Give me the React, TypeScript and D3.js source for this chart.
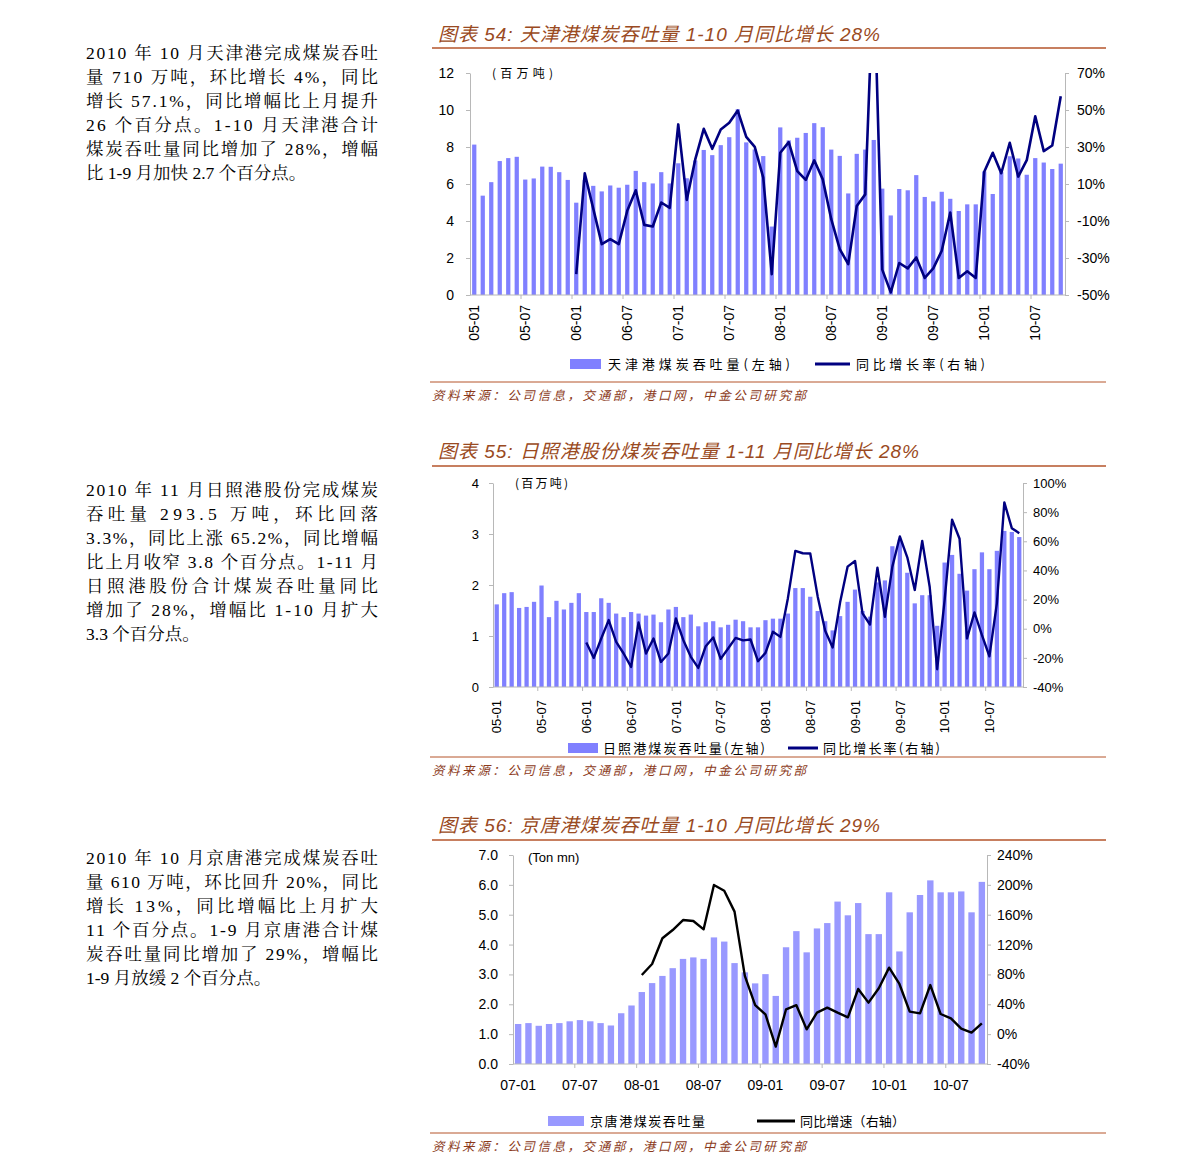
import { useEffect, useRef } from 'react';
import * as d3 from 'd3';

const AXIS_FONT = '"Liberation Sans", Arial, sans-serif';
const CJK_FONT = '"Noto Sans CJK SC", sans-serif';
const SERIF_FONT = '"Liberation Serif", "Noto Serif CJK SC", "Noto Sans CJK SC", serif';
const BROWN = '#9a4a22';

// month keys like '05-01'
function monthKeys(year: number, month: number, count: number) {
  const out: string[] = [];
  for (let k = 0; k < count; k++) {
    const m = (month - 1 + k) % 12;
    const y = year + Math.floor((month - 1 + k) / 12);
    out.push(`${String(y % 100).padStart(2, '0')}-${String(m + 1).padStart(2, '0')}`);
  }
  return out;
}

// ---- 图表 54 天津港 (2005-01 .. 2010-10)
const tjMonths = monthKeys(2005, 1, 70);
const tjVolume = [
  8.13, 5.37, 6.10, 7.24, 7.40, 7.47, 6.24, 6.30, 6.94, 6.93, 6.64, 6.22,
  4.99, 6.22, 5.90, 5.60, 5.92, 5.80, 5.96, 6.71, 6.10, 6.03, 6.64, 6.03,
  7.12, 6.31, 7.27, 7.84, 7.56, 8.10, 8.53, 10.04, 8.25, 7.87, 7.51, 3.70,
  9.06, 8.36, 8.50, 8.76, 9.29, 9.07, 7.86, 7.52, 5.49, 7.63, 7.86, 8.38,
  5.75, 4.30, 5.73, 5.66, 6.48, 5.30, 5.06, 5.58, 5.20, 4.54, 4.90, 4.90,
  6.68, 5.46, 6.64, 7.50, 7.38, 6.50, 7.40, 7.16, 6.81, 7.10,
];
// yoy from 06-01
const tjYoy = [
  -38.7, 15.8, -3.3, -22.5, -19.8, -22.5, -4.5, 6.6, -12.1, -13.0, 0, -2.9,
  42.2, 1.4, 23.3, 39.8, 29.0, 39.5, 43.1, 49.7, 35.5, 30.1, 13.4, -38.7,
  26.9, 32.6, 17.0, 12.2, 22.8, 12.5, -9.0, -25.2, -33.3, -1.9, 4.4, 126,
  -36.3, -48.6, -32.7, -35.6, -29.7, -40.8, -35.6, -26.1, -5.4, -40.8, -37.2, -40.8,
  16.6, 26.9, 15.8, 32.3, 14.0, 22.9, 46.6, 27.8, 30.8, 57.4,
];
const tjLabels = ['05-01', '05-07', '06-01', '06-07', '07-01', '07-07', '08-01', '08-07', '09-01', '09-07', '10-01', '10-07'];

// ---- 图表 55 日照港 (2005-01 .. 2010-11)
const rzMonths = monthKeys(2005, 1, 71);
const rzVolume = [
  1.62, 1.84, 1.86, 1.55, 1.57, 1.67, 1.99, 1.37, 1.69, 1.52, 1.65, 1.84,
  1.47, 1.47, 1.74, 1.65, 1.44, 1.37, 1.47, 1.44, 1.40, 1.42, 1.27, 1.52,
  1.57, 1.37, 1.42, 1.19, 1.27, 1.29, 1.17, 1.22, 1.32, 1.29, 1.17, 1.17,
  1.31, 1.34, 1.34, 1.44, 1.94, 1.94, 1.77, 1.49, 1.29, 1.11, 1.39, 1.67,
  1.91, 1.49, 1.38, 2.05, 2.09, 2.76, 2.89, 2.24, 1.64, 1.80, 1.80, 1.20,
  2.44, 2.59, 2.22, 1.89, 2.31, 2.64, 2.31, 2.67, 3.06, 3.04, 2.94,
];
const rzYoy = [
  -9.5, -20.0, -6.7, 5.9, -9.0, -17.0, -26.2, 4.3, -17.0, -6.7, -22.8, -17.0,
  7.0, -7.9, -19.3, -26.9, -12.0, -6.0, -20.7, -13.6, -6.3, -8.0, -7.4, -22.3,
  -16.6, -2.1, -5.6, 20.8, 53.4, 51.8, 51.6, 22.0, -1.4, -12.9, 18.1, 42.6,
  46.5, 10.5, 2.9, 41.9, 8.2, 42.6, 63.3, 49.0, 26.6, 60.3, 28.8, -27.8,
  19.7, 74.8, 61.7, -6.7, 11.2, -4.4, -18.9, 17.4, 86.7, 69.0, 65.6,
];
const rzLabels = tjLabels;

// ---- 图表 56 京唐港 (2007-01 .. 2010-10)
const jtMonths = monthKeys(2007, 1, 46);
const jtVolume = [
  1.34, 1.37, 1.28, 1.34, 1.37, 1.43, 1.47, 1.43, 1.37, 1.29, 1.70, 1.96,
  2.41, 2.71, 2.95, 3.21, 3.52, 3.57, 3.52, 4.24, 4.10, 3.38, 3.07, 2.70,
  3.01, 2.28, 3.91, 4.45, 3.74, 4.54, 4.72, 5.44, 4.98, 5.39, 4.35, 4.35,
  5.75, 3.77, 5.08, 5.66, 6.15, 5.75, 5.75, 5.78, 5.08, 6.10,
];
// yoy from 08-01
const jtYoy = [
  79.3, 94.0, 128.4, 139.5, 152.9, 151.6, 140.4, 199.8, 192.2, 164.1, 78, 38.8,
  26.5, -16.7, 33.3, 38.8, 6.4, 28.8, 35.5, 28.8, 22.5, 60.5, 42.2, 61.4,
  89.1, 67.2, 30.1, 27.9, 65.8, 27.0, 21.2, 7.3, 2.0, 14.5,
];
const jtLabels = ['07-01', '07-07', '08-01', '08-07', '09-01', '09-07', '10-01', '10-07'];

const leftTicks1 = [0, 2, 4, 6, 8, 10, 12];
const rightTicks1 = [-50, -30, -10, 10, 30, 50, 70];
const leftTicks2 = [0, 1, 2, 3, 4];
const rightTicks2 = [-40, -20, 0, 20, 40, 60, 80, 100];
const leftTicks3 = [0, 1, 2, 3, 4, 5, 6, 7];
const rightTicks3 = [-40, 0, 40, 80, 120, 160, 200, 240];

interface Spec {
  left: number; right: number; top: number; bottom: number;
  categories: string[]; bars: number[]; line: number[]; lineStart: number;
  leftTicks: number[]; rightTicks: number[];
  leftFormat: (d: any) => string;
  leftPad: number; rightPad: number; fontSize: number;
  barColor: string; barRatio: number; lineColor: string; lineWidth: number;
  xLabels: string[]; rotateLabels: boolean; labelY: number;
}

function DualChart({ spec, id }: { spec: Spec; id: string }) {
  const ref = useRef<SVGGElement>(null);

  useEffect(() => {
    if (ref.current === null) return;
    const g = d3.select(ref.current);
    g.selectAll('*').remove();
    const { left, right, top, bottom, categories } = spec;

    const x = d3.scaleBand()
      .domain(categories)
      .range([left, right])
      .paddingInner(1 - spec.barRatio)
      .paddingOuter((1 - spec.barRatio) / 2);
    const bw = x.bandwidth();
    const step = x.step();

    const yL = d3.scaleLinear()
      .domain([spec.leftTicks[0], spec.leftTicks[spec.leftTicks.length - 1]])
      .range([bottom, top]);
    const yR = d3.scaleLinear()
      .domain([spec.rightTicks[0], spec.rightTicks[spec.rightTicks.length - 1]])
      .range([bottom, top]);

    g.append('clipPath').attr('id', `${id}-clip`)
      .append('rect')
      .attr('x', left).attr('y', top)
      .attr('width', right - left).attr('height', bottom - top);

    g.append('g').selectAll('rect').data(spec.bars).join('rect')
      .attr('x', (_, i) => x(categories[i]) || 0)
      .attr('y', (d) => yL(d))
      .attr('width', bw)
      .attr('height', (d) => bottom - yL(d))
      .attr('fill', spec.barColor);

    const lineCats = categories.slice(spec.lineStart);
    const line = d3.line<number>()
      .x((_, i) => (x(lineCats[i]) || 0) + bw / 2)
      .y((d) => yR(d));
    g.append('path').datum(spec.line)
      .attr('d', line)
      .attr('fill', 'none')
      .attr('stroke', spec.lineColor)
      .attr('stroke-width', spec.lineWidth)
      .attr('stroke-linejoin', 'round')
      .attr('clip-path', `url(#${id}-clip)`);

    const styleAxis = (a: any) => {
      a.attr('font-family', AXIS_FONT).attr('font-size', spec.fontSize);
      a.select('.domain').attr('stroke', '#b8b8b8');
      a.selectAll('.tick line').attr('stroke', '#b8b8b8');
      a.selectAll('.tick text').attr('fill', '#000');
    };

    const gl = g.append('g').attr('transform', `translate(${left},0)`)
      .call(d3.axisLeft(yL).tickValues(spec.leftTicks).tickSize(4).tickSizeOuter(0)
        .tickPadding(spec.leftPad).tickFormat(spec.leftFormat));
    styleAxis(gl);

    const gr = g.append('g').attr('transform', `translate(${right},0)`)
      .call(d3.axisRight(yR).tickValues(spec.rightTicks).tickSize(4).tickSizeOuter(0)
        .tickPadding(spec.rightPad).tickFormat((d: any) => `${d}%`));
    styleAxis(gr);

    // x axis
    g.append('line')
      .attr('x1', left).attr('x2', right).attr('y1', bottom).attr('y2', bottom)
      .attr('stroke', '#b8b8b8');
    const tickIdx = categories.map((_, i) => i).filter((i) => i % 6 === 0 && i > 0);
    g.append('g').selectAll('line').data(tickIdx).join('line')
      .attr('x1', (i) => left + step * i).attr('x2', (i) => left + step * i)
      .attr('y1', bottom).attr('y2', bottom + 4)
      .attr('stroke', '#b8b8b8');

    const labels = g.append('g')
      .attr('font-family', AXIS_FONT).attr('font-size', spec.fontSize)
      .selectAll('text').data(spec.xLabels).join('text')
      .text((d) => d);
    if (spec.rotateLabels) {
      labels
        .attr('transform', (d) => `translate(${(x(d) || 0) + bw / 2},${spec.labelY}) rotate(-90)`)
        .attr('text-anchor', 'end')
        .attr('dy', '0.36em');
    } else {
      labels
        .attr('x', (d) => (x(d) || 0) + bw / 2)
        .attr('y', spec.labelY)
        .attr('text-anchor', 'middle');
    }
  }, [spec, id]);

  return <g ref={ref} />;
}

const spec1: Spec = {
  left: 470, right: 1065, top: 73, bottom: 295,
  categories: tjMonths, bars: tjVolume, line: tjYoy, lineStart: 12,
  leftTicks: leftTicks1, rightTicks: rightTicks1, leftFormat: (d) => `${d}`,
  leftPad: 12, rightPad: 8, fontSize: 14,
  barColor: '#8080ff', barRatio: 0.5, lineColor: '#000080', lineWidth: 2.6,
  xLabels: tjLabels, rotateLabels: true, labelY: 305,
};

const spec2: Spec = {
  left: 493, right: 1023, top: 483, bottom: 687,
  categories: rzMonths, bars: rzVolume, line: rzYoy, lineStart: 12,
  leftTicks: leftTicks2, rightTicks: rightTicks2, leftFormat: (d) => `${d}`,
  leftPad: 10, rightPad: 6, fontSize: 13,
  barColor: '#8080ff', barRatio: 0.57, lineColor: '#000080', lineWidth: 2.4,
  xLabels: rzLabels, rotateLabels: true, labelY: 700,
};

const spec3: Spec = {
  left: 513, right: 987, top: 855, bottom: 1064,
  categories: jtMonths, bars: jtVolume, line: jtYoy, lineStart: 12,
  leftTicks: leftTicks3, rightTicks: rightTicks3, leftFormat: (d) => d3.format('.1f')(d),
  leftPad: 11, rightPad: 6, fontSize: 14,
  barColor: '#9999ff', barRatio: 0.62, lineColor: '#000000', lineWidth: 2.4,
  xLabels: jtLabels, rotateLabels: false, labelY: 1090,
};

const text1 = [
  '2010 年 10 月天津港完成煤炭吞吐',
  '量 710 万吨，环比增长 4%，同比',
  '增长 57.1%，同比增幅比上月提升',
  '26  个百分点。1-10  月天津港合计',
  '煤炭吞吐量同比增加了 28%，增幅',
  '比 1-9 月加快 2.7 个百分点。',
];
const text2 = [
  '2010 年 11 月日照港股份完成煤炭',
  '吞吐量  293.5  万吨，环比回落',
  '3.3%，同比上涨 65.2%，同比增幅',
  '比上月收窄 3.8 个百分点。1-11 月',
  '日照港股份合计煤炭吞吐量同比',
  '增加了 28%，增幅比 1-10 月扩大',
  '3.3 个百分点。',
];
const text3 = [
  '2010 年 10 月京唐港完成煤炭吞吐',
  '量 610 万吨，环比回升 20%，同比',
  '增长 13%，同比增幅比上月扩大',
  '11 个百分点。1-9 月京唐港合计煤',
  '炭吞吐量同比增加了 29%，增幅比',
  '1-9 月放缓 2 个百分点。',
];

function Paragraph({ lines, y }: { lines: string[]; y: number }) {
  return (
    <g fontFamily={SERIF_FONT} fontSize={17.5} fill="#000">
      {lines.map((l, i) => (
        <text key={i} x={86} y={y + i * 24}
          {...(i < lines.length - 1 ? { textLength: 292, lengthAdjust: 'spacing' } : {})}>
          {l}
        </text>
      ))}
    </g>
  );
}

function Frame({ title, titleLen, titleY, topLine, bottomLine }: {
  title: string; titleLen: number; titleY: number; topLine: number; bottomLine: number;
}) {
  return (
    <g>
      <text x={438} y={titleY} fontFamily={`"Liberation Sans", ${CJK_FONT}`} fontSize={19}
        fontStyle="italic" fill={BROWN} textLength={titleLen} lengthAdjust="spacing">
        {title}
      </text>
      <line x1={432} x2={1106} y1={topLine} y2={topLine} stroke="#b5552b" strokeWidth={1.3} />
      <line x1={430} x2={1106} y1={bottomLine} y2={bottomLine} stroke="#b5552b" strokeWidth={1} />
      <text x={432} y={bottomLine + 18} fontFamily={CJK_FONT} fontSize={12.5} fontStyle="italic"
        fill="#8b3a1a" textLength={374} lengthAdjust="spacing">
        资料来源：公司信息，交通部，港口网，中金公司研究部
      </text>
    </g>
  );
}

function Legend({ y, rectX, rectW, rectColor, text1, text1X, text1Len, lineX1, lineX2, lineColor, text2, text2X, text2Len }: any) {
  return (
    <g fontFamily={CJK_FONT} fontSize={13} fill="#000">
      <rect x={rectX} y={y - 5} width={rectW} height={10} fill={rectColor} />
      <text x={text1X} y={y + 4.5} textLength={text1Len} lengthAdjust="spacing">{text1}</text>
      <line x1={lineX1} x2={lineX2} y1={y} y2={y} stroke={lineColor} strokeWidth={3} />
      <text x={text2X} y={y + 4.5} textLength={text2Len} lengthAdjust="spacing">{text2}</text>
    </g>
  );
}

export default function App() {
  return (
    <svg width={1191} height={1174} style={{ position: 'absolute', left: 0, top: 0, background: '#fff' }}>
      <rect width={1191} height={1174} fill="#fff" />
      <Paragraph lines={text1} y={59} />
      <Paragraph lines={text2} y={496} />
      <Paragraph lines={text3} y={864} />

      <Frame title="图表 54: 天津港煤炭吞吐量 1-10 月同比增长 28%" titleLen={442} titleY={41} topLine={48} bottomLine={382} />
      <text x={492} y={78} fontFamily={CJK_FONT} fontSize={12} textLength={61} lengthAdjust="spacing">(百万吨)</text>
      <DualChart spec={spec1} id="c54" />
      <Legend y={364} rectX={570} rectW={31} rectColor="#8080ff" text1="天津港煤炭吞吐量(左轴)" text1X={608} text1Len={182}
        lineX1={815} lineX2={850} lineColor="#000080" text2="同比增长率(右轴)" text2X={856} text2Len={129} />

      <Frame title="图表 55: 日照港股份煤炭吞吐量 1-11 月同比增长 28%" titleLen={481} titleY={458} topLine={466} bottomLine={757} />
      <text x={515} y={488} fontFamily={CJK_FONT} fontSize={12} textLength={53} lengthAdjust="spacing">(百万吨)</text>
      <DualChart spec={spec2} id="c55" />
      <Legend y={748} rectX={568} rectW={30} rectColor="#8080ff" text1="日照港煤炭吞吐量(左轴)" text1X={603} text1Len={162}
        lineX1={788} lineX2={818} lineColor="#000080" text2="同比增长率(右轴)" text2X={823} text2Len={117} />

      <Frame title="图表 56: 京唐港煤炭吞吐量 1-10 月同比增长 29%" titleLen={442} titleY={832} topLine={840} bottomLine={1133} />
      <text x={528} y={862} fontFamily={AXIS_FONT} fontSize={13}>(Ton mn)</text>
      <DualChart spec={spec3} id="c56" />
      <Legend y={1121} rectX={548} rectW={36} rectColor="#9999ff" text1="京唐港煤炭吞吐量" text1X={590} text1Len={115}
        lineX1={757} lineX2={795} lineColor="#000000" text2="同比增速（右轴）" text2X={800} text2Len={105} />
    </svg>
  );
}
